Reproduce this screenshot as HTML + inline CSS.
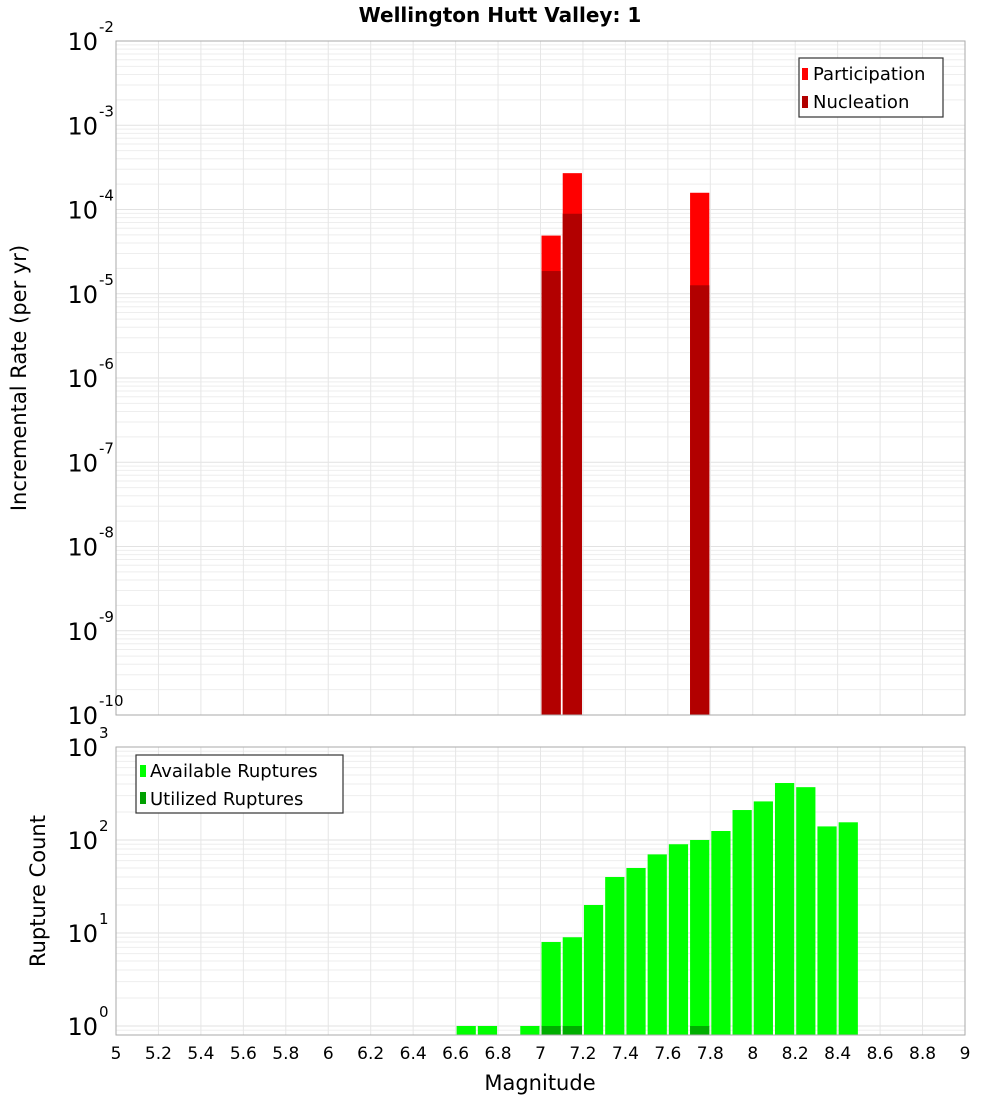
<!DOCTYPE html>
<html><head><meta charset="utf-8"><style>
body{margin:0;background:#fff;}
svg{display:block;font-family:"DejaVu Sans","Liberation Sans",sans-serif;}
</style></head><body>
<svg id="c" width="1000" height="1100" xmlns="http://www.w3.org/2000/svg">
<text x="500" y="22" text-anchor="middle" font-size="20" font-weight="bold">Wellington Hutt Valley: 1</text>
<g id="gtop"></g>
<g id="gbot"></g>
<text transform="translate(26,378) rotate(-90)" text-anchor="middle" font-size="21">Incremental Rate (per yr)</text>
<text transform="translate(45,891) rotate(-90)" text-anchor="middle" font-size="21">Rupture Count</text>
<text x="540" y="1090" text-anchor="middle" font-size="21">Magnitude</text>
<g>
<rect x="799" y="58" width="144" height="59" fill="#fff" stroke="#333" stroke-width="1.2"/>
<rect x="802" y="68" width="6" height="12" fill="#ff0000"/>
<text x="813" y="80" font-size="18">Participation</text>
<rect x="802" y="96" width="6" height="12" fill="#b20000"/>
<text x="813" y="108" font-size="18">Nucleation</text>
</g>
<g>
<rect x="136" y="755" width="207" height="58" fill="#fff" stroke="#333" stroke-width="1.2"/>
<rect x="140" y="765" width="6" height="12" fill="#00ff00"/>
<text x="150" y="777" font-size="18">Available Ruptures</text>
<rect x="140" y="792" width="6" height="12" fill="#00a000"/>
<text x="150" y="805" font-size="18">Utilized Ruptures</text>
</g>
</svg>
<script>
const rateBins = [7.0, 7.1, 7.7];
const participation = [4.9e-5, 2.7e-4, 1.58e-4];
const nucleation = [1.86e-5, 8.9e-5, 1.26e-5];
const countBins = [6.6,6.7,6.9,7.0,7.1,7.2,7.3,7.4,7.5,7.6,7.7,7.8,7.9,8.0,8.1,8.2,8.3,8.4];
const available = [1,1,1,8,9,20,40,50,70,90,100,125,210,260,410,370,140,155];
const utilizedBins = [7.0, 7.1, 7.7];
const utilized = [1,1,1];
const xTicks = [5,5.2,5.4,5.6,5.8,6,6.2,6.4,6.6,6.8,7,7.2,7.4,7.6,7.8,8,8.2,8.4,8.6,8.8,9];
const rateExps = [-2,-3,-4,-5,-6,-7,-8,-9,-10];
const countExps = [3,2,1,0];

const NS="http://www.w3.org/2000/svg";
const X0=116,X1=965;
const xs=m=>X0+(m-5)/4*(X1-X0);
const yTop=v=>41+(-2-Math.log10(v))*84.25;
const yBot=v=>747+(3-Math.log10(v))*93;
function mk(p,t,a){const e=document.createElementNS(NS,t);for(const k in a)e.setAttribute(k,a[k]);p.appendChild(e);return e;}
function grid(g,T,B,yf,eMin,eMax){
  for(let e=eMin;e<eMax;e++)for(let k=1;k<10;k++){const yy=yf(k*Math.pow(10,e));if(yy<T-0.5||yy>B+0.5)continue;
    const l=mk(g,'line',{x1:X0,x2:X1,y1:yy,y2:yy,stroke:k==1?'#e2e2e2':'#eeeeee','stroke-width':1});
    
    }
  xTicks.forEach(t=>{const l=mk(g,'line',{x1:xs(t),x2:xs(t),y1:T,y2:B,stroke:'#e6e6e6','stroke-width':1});
    
    });
}
const gTop=document.getElementById('gtop'),gBot=document.getElementById('gbot');
grid(gTop,41,715,yTop,-10,-1);
grid(gBot,747,1035,yBot,-1,3);
rateBins.forEach((b,i)=>{
  const r=mk(gTop,'rect',{x:xs(b)+1,width:xs(b+0.1)-xs(b)-2,y:yTop(participation[i]),height:715-yTop(participation[i]),fill:'#ff0000'});
  
  
  const n=mk(gTop,'rect',{x:xs(b)+1,width:xs(b+0.1)-xs(b)-2,y:yTop(nucleation[i]),height:715-yTop(nucleation[i]),fill:'#b20000'});
  
  
});
countBins.forEach((b,i)=>{
  const r=mk(gBot,'rect',{x:xs(b)+1,width:xs(b+0.1)-xs(b)-2,y:yBot(available[i]),height:1035-yBot(available[i]),fill:'#00ff00'});
  
  
});
utilizedBins.forEach((b,i)=>{
  const r=mk(gBot,'rect',{x:xs(b)+1,width:xs(b+0.1)-xs(b)-2,y:yBot(utilized[i]),height:1035-yBot(utilized[i]),fill:'#00a000','fill-opacity':0.85});
  
  
});
mk(gTop,'rect',{x:X0,y:41,width:X1-X0,height:674,fill:'none',stroke:'#aaa'});
mk(gBot,'rect',{x:X0,y:747,width:X1-X0,height:288,fill:'none',stroke:'#aaa'});
function ylab(g,e,yy){const t=mk(g,'text',{x:98,y:yy+9,'text-anchor':'end','font-size':24});t.textContent='10';
  
  
  const s=mk(g,'text',{x:99,y:yy-9,'font-size':15});s.textContent=e;
  
  }
rateExps.forEach(e=>ylab(gTop,e,yTop(Math.pow(10,e))));
countExps.forEach(e=>ylab(gBot,e,yBot(Math.pow(10,e))));
xTicks.forEach(t=>{const l=mk(gBot,'text',{x:xs(t),y:1059,'text-anchor':'middle','font-size':17});l.textContent=String(t);
  
  });
</script>
</body></html>
